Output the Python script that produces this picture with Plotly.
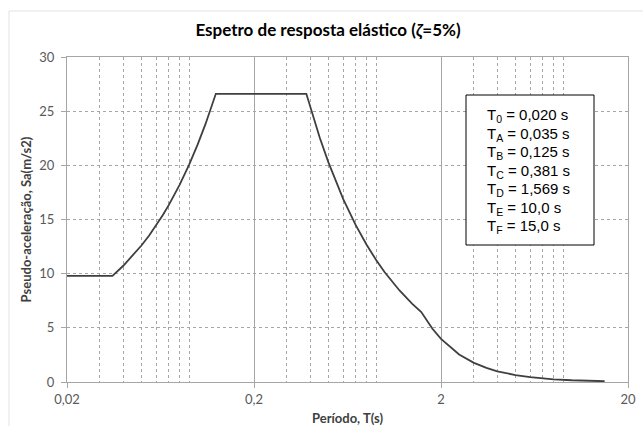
import plotly.graph_objects as go

# ---- data ----
period_s = [0.02, 0.035, 0.04, 0.045, 0.05, 0.055, 0.06, 0.065, 0.07, 0.075, 0.08,
            0.09, 0.10, 0.11, 0.125, 0.381, 0.45, 0.5, 0.6, 0.7, 0.8, 0.9, 1.0,
            1.2, 1.4, 1.569, 1.8, 2.0, 2.5, 3.0, 3.5, 4.0, 5.0, 6.0, 7.0, 8.0,
            10.0, 12.0, 15.0]
sa_ms2 = [9.80, 9.80, 10.73, 11.67, 12.60, 13.53, 14.47, 15.40, 16.33, 17.27, 18.20,
          20.07, 21.93, 23.80, 26.60, 26.60, 22.52, 20.27, 16.89, 14.48, 12.67, 11.26, 10.13,
          8.45, 7.24, 6.46, 4.91, 3.98, 2.54, 1.77, 1.30, 0.99, 0.64, 0.44, 0.32, 0.25,
          0.16, 0.11, 0.07]

x_tickvals = [0.02, 0.2, 2, 20]
x_ticktext = ["0,02", "0,2", "2", "20"]
x_minor = [0.03, 0.04, 0.05, 0.06, 0.07, 0.08, 0.09,
           0.3, 0.4, 0.5, 0.6, 0.7, 0.8, 0.9,
           3, 4, 5, 6, 7, 8, 9]
y_tickvals = [0, 5, 10, 15, 20, 25, 30]

box_sym = ["0", "A", "B", "C", "D", "E", "F"]
box_val = ["0,020", "0,035", "0,125", "0,381", "1,569", "10,0", "15,0"]

title_txt = "Espetro de resposta elástico (<i>ζ</i>=5%)"
x_title = "Período, T(s)"
y_title = "Pseudo-aceleração, Sa(m/s2)"

# ---- figure ----
W, H = 643, 426
L, R, T, B = 67, 15, 57, 44
pw, ph = W - L - R, H - T - B

def px(xp):
    return (xp - L) / pw

def py(yp):
    return (H - B - yp) / ph

FONT = "Lato"
GRID = "#a6a6a6"
TXT = "#595959"

fig = go.Figure()
fig.add_trace(go.Scatter(x=period_s, y=sa_ms2, mode="lines",
                         line=dict(color="#3f3f3f", width=1.8),
                         hoverinfo="skip", showlegend=False))

fig.update_xaxes(type="log", range=[-1.69897, 1.30103], automargin=False,
                 tickmode="array", tickvals=x_tickvals, ticktext=x_ticktext,
                 showgrid=True, gridcolor=GRID, gridwidth=1,
                 showline=True, linecolor=GRID, linewidth=1, mirror=True,
                 ticks="outside", ticklen=5, tickcolor=GRID,
                 minor=dict(tickmode="array", tickvals=x_minor, showgrid=True,
                            gridcolor=GRID, griddash="dot", gridwidth=1, ticks=""),
                 tickfont=dict(family=FONT, size=13, color=TXT),
                 title=dict(text=x_title, standoff=8,
                            font=dict(family=FONT, size=13, color="#404040", weight="bold")),
                 zeroline=False)

fig.update_yaxes(range=[0, 30], automargin=False, tickmode="array", tickvals=y_tickvals,
                 showgrid=True, gridcolor=GRID, griddash="dot", gridwidth=1,
                 showline=True, linecolor=GRID, linewidth=1, mirror=True,
                 ticks="outside", ticklen=5, tickcolor=GRID, ticklabelstandoff=4,
                 tickfont=dict(family=FONT, size=13, color=TXT),
                 title=dict(text=y_title, standoff=4,
                            font=dict(family=FONT, size=13, color="#404040", weight="bold")),
                 zeroline=False)

# chart-area border (light)
fig.add_shape(type="line", xref="paper", yref="paper",
              x0=px(9), x1=px(700), y0=py(11), y1=py(11),
              line=dict(color="#e3e3e3", width=1))
fig.add_shape(type="line", xref="paper", yref="paper",
              x0=px(9), x1=px(9), y0=py(11), y1=py(480),
              line=dict(color="#e3e3e3", width=1))

# info box
fig.add_shape(type="rect", xref="paper", yref="paper",
              x0=px(466), x1=px(594), y0=py(245), y1=py(95),
              line=dict(color="black", width=1), fillcolor="white", layer="above")
line_y = [115, 134, 152, 171, 189, 208, 227]
for s, v, yy in zip(box_sym, box_val, line_y):
    fig.add_annotation(xref="paper", yref="paper", x=px(485), y=py(yy),
                       xanchor="left", yanchor="middle", showarrow=False,
                       text=f"T<sub>{s}</sub> = {v} s",
                       font=dict(family="Liberation Sans", size=15, color="black"))

fig.update_layout(
    width=W, height=H,
    margin=dict(l=L, r=R, t=T, b=B, autoexpand=False),
    paper_bgcolor="white", plot_bgcolor="white",
    title=dict(text=title_txt, x=px(328), xref="paper", xanchor="center",
               y=1 - 30 / H, yanchor="middle",
               font=dict(family=FONT, size=17, color="black", weight="bold")),
)

fig.write_html("out.html")
